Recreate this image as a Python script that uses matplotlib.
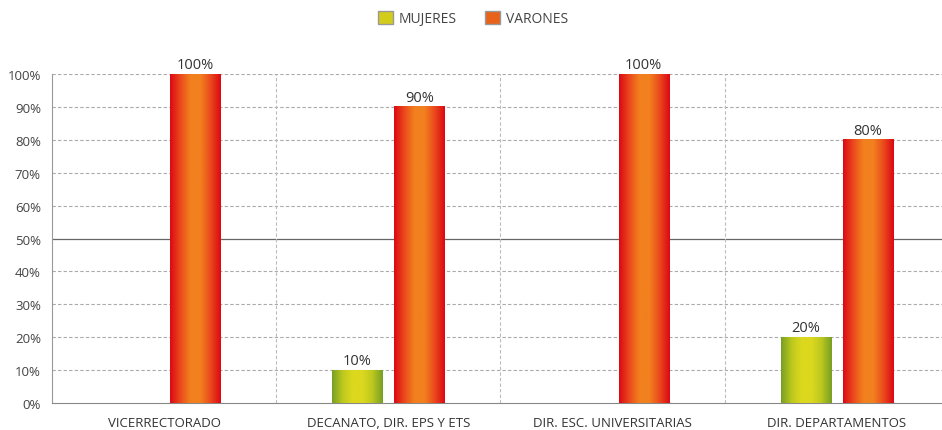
import numpy as np
import matplotlib.pyplot as plt
from matplotlib.colors import LinearSegmentedColormap
from matplotlib.patches import Patch

plt.rcParams['font.family'] = ['Open Sans', 'DejaVu Sans']

categorias = ["VICERRECTORADO", "DECANATO, DIR. EPS Y ETS", "DIR. ESC. UNIVERSITARIAS", "DIR. DEPARTAMENTOS"]
mujeres = [0, 10, 0, 20]
varones = [100, 90, 100, 80]
yticks = [0, 10, 20, 30, 40, 50, 60, 70, 80, 90, 100]

cmap_v = LinearSegmentedColormap.from_list("v", ["#dc0a14", "#ea4a1c", "#f2801e", "#f2801e", "#ea4a1c", "#dc0a14"])
cmap_m = LinearSegmentedColormap.from_list("m", ["#78a024", "#bcc81e", "#dcd81e", "#dcd81e", "#bcc81e", "#78a024"])

fig = plt.figure(figsize=(9.42, 4.31), dpi=100)
ax = fig.add_axes([0.0552, 0.0626, 0.945, 0.7633])

x = np.arange(len(categorias))
w = 0.223
off = 0.138
grad = np.linspace(0, 1, 64).reshape(1, -1)

bm = ax.bar(x - off, mujeres, w, color="none")
bv = ax.bar(x + off, varones, w, color="none")
for bars, cmap, vals in [(bm, cmap_m, mujeres), (bv, cmap_v, varones)]:
    for b, v in zip(bars, vals):
        if v == 0:
            continue
        x0, y0 = b.get_x(), b.get_y()
        ax.imshow(grad, cmap=cmap, aspect='auto', extent=[x0, x0 + b.get_width(), y0, y0 + b.get_height()],
                  zorder=3)
        ax.text(x0 + b.get_width() / 2, v + 0.6, f"{v}%", ha='center', va='bottom', fontsize=10.5, color="#333333")

ax.set_xlim(-0.5, 3.47)
ax.set_ylim(0, 100)
ax.set_yticks(yticks)
ax.set_yticklabels([f"{t}%" for t in yticks], fontsize=9.5, color="#444444")
ax.set_xticks(x)
ax.set_xticklabels(categorias, fontsize=9.5, color="#333333")
ax.tick_params(axis='both', length=0)
ax.tick_params(axis='x', pad=9)
ax.tick_params(axis='y', pad=8)

for t in yticks[1:]:
    if t == 50:
        ax.axhline(t, color="#666666", lw=0.9, zorder=1)
    else:
        ax.axhline(t, color="#aaaaaa", lw=0.8, ls=(0, (3, 2)), zorder=1)
for b in [0.5, 1.5, 2.5]:
    ax.axvline(b, color="#bbbbbb", lw=0.8, ls=(0, (3, 2)), zorder=1)

for s in ['top', 'right']:
    ax.spines[s].set_visible(False)
ax.spines['left'].set_color("#999999")
ax.spines['bottom'].set_color("#888888")

handles = [Patch(facecolor="#d4cc1a", edgecolor="#999999", label="MUJERES"),
           Patch(facecolor="#e8621a", edgecolor="#999999", label="VARONES")]
fig.legend(handles=handles, loc='center', bbox_to_anchor=(0.502, 0.955), ncol=2, frameon=False,
           fontsize=10, handlelength=1.1, handleheight=1.1, columnspacing=2.0, handletextpad=0.4,
           labelcolor="#444444")

fig.savefig("out.png", dpi=100)
